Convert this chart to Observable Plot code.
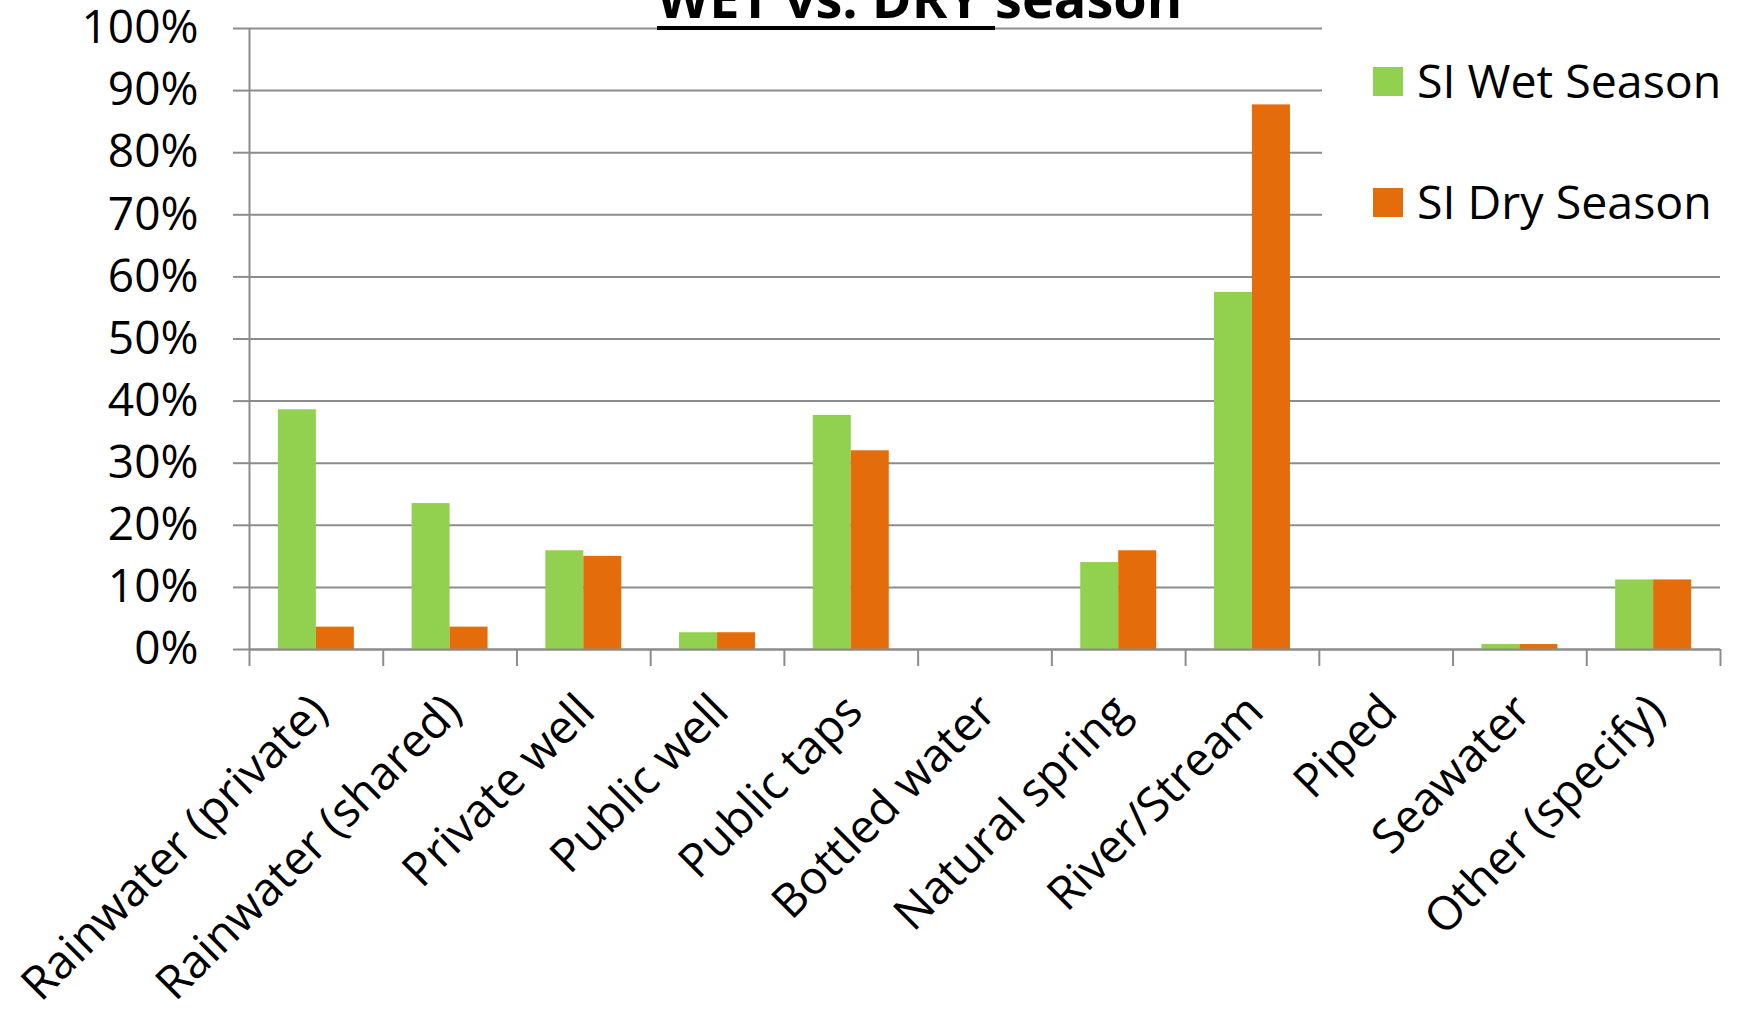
<!DOCTYPE html>
<html>
<head>
<meta charset="utf-8">
<script src="https://cdn.jsdelivr.net/npm/d3@7"></script>
<script src="https://cdn.jsdelivr.net/npm/@observablehq/plot@0.6"></script>
<style>
  html, body { margin: 0; padding: 0; background: #fff; }
  #chart { position: relative; width: 1739px; height: 1011px; overflow: hidden; font-family: "Open Sans", sans-serif; }
  #title { position: absolute; left: 657px; top: -30px; font-size: 54px; font-weight: 700; line-height: 54px; white-space: nowrap; color: #000; }
  #title .ul { display: inline-block; border-bottom: 4px solid #000; padding-bottom: 2px; }
  #legend { position: absolute; left: 1322px; top: 0; width: 417px; height: 245px; background: #fff; }
  .item { position: absolute; left: 51px; font-size: 46.5px; line-height: 46px; white-space: nowrap; color: #000; }
  .item .sw { position: absolute; left: 0; width: 30px; height: 29px; }
  .item span.lab { position: absolute; left: 44px; top: 0; }
</style>
</head>
<body>
<div id="chart"></div>
<script>
// Main water source by season (share of households)
const categories = [
  "Rainwater (private)", "Rainwater (shared)", "Private well", "Public well",
  "Public taps", "Bottled water", "Natural spring", "River/Stream",
  "Piped", "Seawater", "Other (specify)"
];
const wetSeason = [38.6, 23.5, 15.9, 2.7, 37.7, 0, 14.0, 57.5, 0, 0.8, 11.2];
const drySeason = [3.6, 3.6, 15.0, 2.7, 32.0, 0, 15.9, 87.7, 0, 0.8, 11.2];
const seriesNames = ["SI Wet Season", "SI Dry Season"];
const seriesColors = ["#92d050", "#e46c0a"];
const yTicks = d3.range(0, 1.0001, 0.1);

const rows = categories.flatMap((c, i) => [
  {i, category: c, series: seriesNames[0], value: wetSeason[i] / 100},
  {i, category: c, series: seriesNames[1], value: drySeason[i] / 100}
]);

// position of each season's bar inside one category slot
const slot = d3.scaleBand(seriesNames, [0, 1]).paddingInner(0).paddingOuter(0.76);

const grey = "#8c8c8c";

const plot = Plot.plot({
  width: 1739,
  height: 1011,
  marginLeft: 249,
  marginRight: 19,
  marginTop: 28,
  marginBottom: 362,
  style: {fontFamily: "Open Sans, sans-serif", background: "white", color: "black", overflow: "hidden"},
  x: {domain: [0, categories.length], axis: null},
  y: {domain: [0, 1], axis: null},
  color: {domain: seriesNames, range: seriesColors},
  marks: [
    Plot.gridY(yTicks, {stroke: grey, strokeOpacity: 1, strokeWidth: 2}),
    Plot.axisY(yTicks, {
      tickSize: 16, tickPadding: 35, fontSize: 46,
      tickFormat: d3.format(".0%"), stroke: grey, strokeWidth: 2, fill: "black", label: null
    }),
    Plot.rectY(rows, {
      x1: d => d.i + slot(d.series),
      x2: d => d.i + slot(d.series) + slot.bandwidth(),
      y1: 0,
      y2: "value",
      fill: "series"
    }),
    Plot.ruleX([0], {y1: 0, y2: 1, stroke: grey, strokeWidth: 2}),
    Plot.ruleY([0], {stroke: grey, strokeWidth: 2}),
    Plot.axisX(d3.range(categories.length + 1), {
      tickSize: 17, tickFormat: () => "", stroke: grey, strokeWidth: 2, label: null
    }),
    Plot.axisX(d3.range(categories.length).map(i => i + 0.5), {
      tickSize: 0, tickPadding: 54, tickRotate: -45, fontSize: 46.5, dx: 3,
      tickFormat: v => categories[Math.floor(v)], fill: "black", label: null
    })
  ]
});

const chart = document.getElementById("chart");
chart.appendChild(plot);

// title, clipped by the top edge of the chart
const title = document.createElement("div");
title.id = "title";
title.innerHTML = '<span class="ul">WET vs. DRY&nbsp;</span>season';
chart.appendChild(title);

// legend box
const legend = document.createElement("div");
legend.id = "legend";
const tops = [57, 178];
seriesNames.forEach((name, k) => {
  const item = document.createElement("div");
  item.className = "item";
  item.style.top = tops[k] + "px";
  const sw = document.createElement("div");
  sw.className = "sw";
  sw.style.background = seriesColors[k];
  sw.style.top = "10px";
  const lab = document.createElement("span");
  lab.className = "lab";
  lab.textContent = name;
  item.appendChild(sw);
  item.appendChild(lab);
  legend.appendChild(item);
});
chart.appendChild(legend);
</script>
</body>
</html>
